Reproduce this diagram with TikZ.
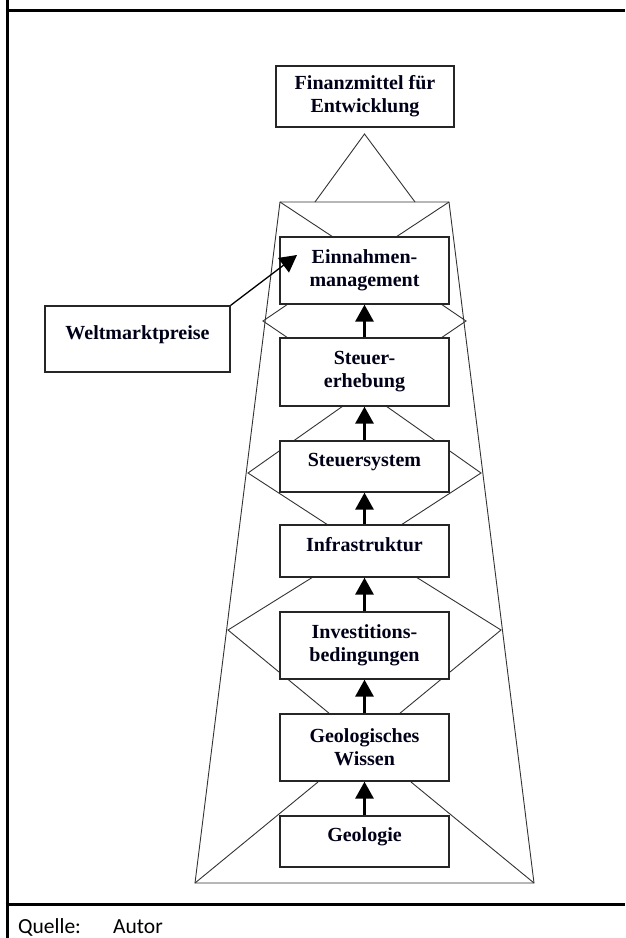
\documentclass[tikz,border=0pt]{standalone}
\usepackage{fontspec}
\setmainfont{Liberation Serif}
\newfontfamily\qfont{Carlito}
\usetikzlibrary{arrows.meta}
\begin{document}
\begin{tikzpicture}[x=1pt,y=-1pt,
  lat/.style={draw=black!80, line width=0.9pt},
  box/.style={draw=black!85, line width=1.3pt, fill=white, inner sep=0pt, align=center,
    font=\fontsize{20}{23}\selectfont\bfseries, text=black!90!blue, minimum width=169pt},
  onel/.style={text height=14pt, text depth=14pt},
  uparr/.style={-{Triangle[length=17pt,width=18pt]}, line width=3pt, draw=black},
  frame/.style={line width=3pt, draw=black}
]
\useasboundingbox (0,0) rectangle (625,938);
% frame
\draw[frame] (7,0) -- (7,938);
\draw[frame] (5.5,10) -- (625,10);
\draw[frame] (5.5,904) -- (625,904);
% tower outline
\draw[lat] (280,202) -- (449,202) -- (534,883) -- (195,883) -- cycle;
\draw[lat] (315,202) -- (364.5,134) -- (415,202);
% left lattice
\draw[lat] (280,202) -- (333,237);
\draw[lat] (288,304) -- (263,321) -- (288,338);
\draw[lat] (343,406) -- (248,473) -- (328,525);
\draw[lat] (313,577) -- (228,630) -- (330,714);
\draw[lat] (318,782) -- (195,883);
% right lattice
\draw[lat] (449,202) -- (396,237);
\draw[lat] (441,304) -- (466,321) -- (441,338);
\draw[lat] (386,406) -- (481,473) -- (401,525);
\draw[lat] (416,577) -- (501,630) -- (399,714);
\draw[lat] (411,782) -- (534,883);
% boxes
\node[box, minimum width=178pt, minimum height=61pt] (fin) at (365,96.5) {Finanzmittel für\\Entwicklung};
\node[box, minimum height=67pt] (ein) at (364.5,270.5) {Einnahmen-\\management};
\node[box, minimum height=68pt] (erh) at (364.5,372) {Steuer-\\erhebung};
\node[box, onel, minimum height=51pt] (sys) at (364.5,466.5) {Steuersystem};
\node[box, onel, minimum height=52pt] (inf) at (364.5,551) {Infrastruktur};
\node[box, minimum height=67pt] (inv) at (364.5,645.5) {Investitions-\\bedingungen};
\node[box, minimum height=67pt] (gw) at (364.5,747.5) {Geologisches\\Wissen};
\node[box, onel, minimum height=51pt] (geo) at (364.5,841.5) {Geologie};
\node[box, onel, minimum width=185pt, minimum height=66pt] (welt) at (137.5,339) {Weltmarktpreise};
% arrows
\draw[uparr] (geo.north) -- (gw.south);
\draw[uparr] (gw.north) -- (inv.south);
\draw[uparr] (inv.north) -- (inf.south);
\draw[uparr] (inf.north) -- (sys.south);
\draw[uparr] (sys.north) -- (erh.south);
\draw[uparr] (erh.north) -- (ein.south);
\coordinate (wtip) at (297,255);
\draw[-{Triangle[length=17pt,width=18pt]}, line width=1.3pt] (welt.north east) -- (wtip);
% source
\node[anchor=base west, inner sep=0pt, font=\qfont\fontsize{21.5}{24}\selectfont] (q) at (18,933) {Quelle:};
\node[anchor=base west, inner sep=0pt, font=\qfont\fontsize{21.5}{24}\selectfont] (a) at (113,933) {Autor};
\end{tikzpicture}
\end{document}
